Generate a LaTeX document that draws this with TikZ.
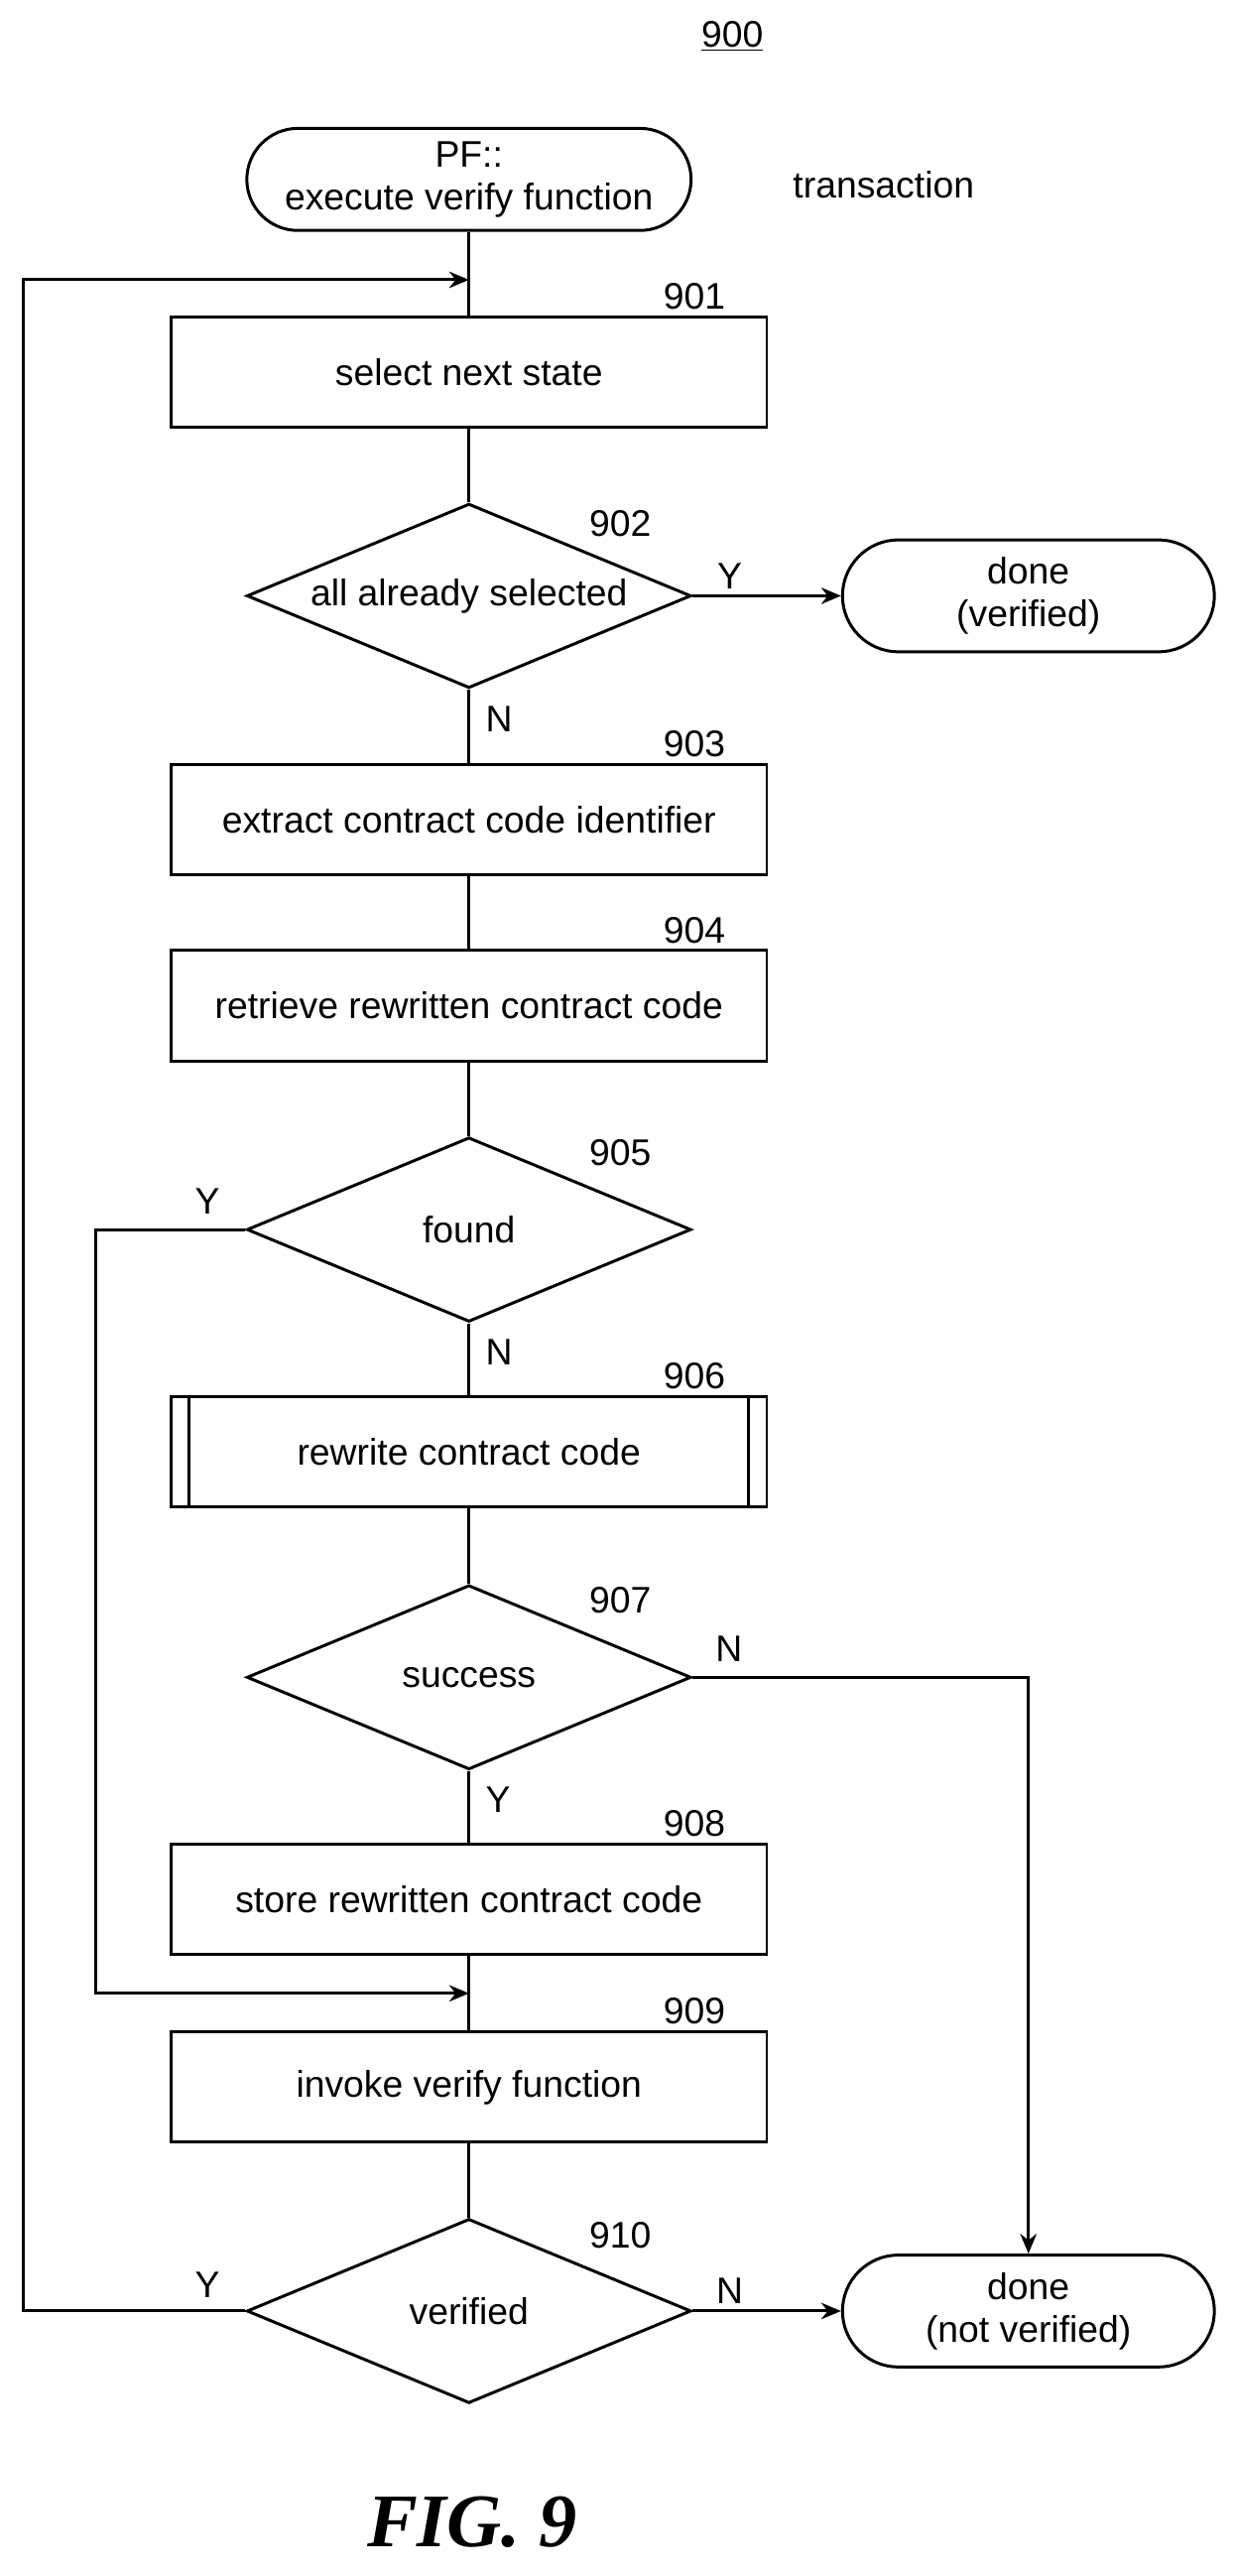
\documentclass[tikz,border=0pt]{standalone}
\usepackage{fontspec}
\setmainfont{Liberation Sans}
\newfontfamily\figfont{Liberation Serif}
\usetikzlibrary{shapes.geometric,arrows.meta}
\tikzstyle{term} = [rectangle, rounded corners=31pt, minimum width=270pt, minimum height=62pt, align=center, draw=black, line width=1.8pt]
\tikzstyle{process} = [rectangle, minimum width=362pt, minimum height=67pt, draw=black, line width=1.8pt]
\tikzstyle{decision} = [diamond, minimum width=270pt, minimum height=112pt, inner sep=0pt, draw=black, line width=1.8pt]
\tikzstyle{arrow} = [line width=1.8pt,-{Stealth[length=12pt,width=10pt]}]
\tikzstyle{line} = [line width=1.8pt]
\begin{document}
\begin{tikzpicture}[x=1pt, y=-1pt, font=\fontsize{22.5}{26}\selectfont]
	\useasboundingbox (0,0) rectangle (750,1565);
	\node at (445,22) {\underline{900}};
	\node (start) [term] at (285,109) {PF::\\execute verify function};
	\node at (537,112) {transaction};
	\node (s901) [process] at (285,226) {select next state};
	\node (s902) [decision, label=center:{all already selected}] at (285,362) {};
	\node (verified) [term, minimum width=226pt, minimum height=68pt, rounded corners=34pt] at (625,362) {done\\(verified)};
	\node (s903) [process] at (285,498) {extract contract code identifier};
	\node (s904) [process] at (285,611) {retrieve rewritten contract code};
	\node (s905) [decision, label=center:{found}] at (285,747) {};
	\node (s906) [process] at (285,882) {rewrite contract code};
	\draw [line] ([xshift=12pt]s906.north west) -- ([xshift=12pt]s906.south west);
	\draw [line] ([xshift=-12pt]s906.north east) -- ([xshift=-12pt]s906.south east);
	\node (s907) [decision, label=center:{success}] at (285,1019) {};
	\node (s908) [process] at (285,1154) {store rewritten contract code};
	\node (s909) [process] at (285,1268) {invoke verify function};
	\node (s910) [decision, label=center:{verified}] at (285,1404) {};
	\node (failed) [term, minimum width=226pt, minimum height=68pt, rounded corners=34pt] at (625,1404) {done\\(not verified)};
	\coordinate (loop) at (285,170);
	\coordinate (join) at (285,1211);

	% step numbers
	\foreach \n/\y in {901/180, 903/452, 904/565, 906/836, 908/1108, 909/1222}
		\node at (422,\y) {\n};
	\foreach \n/\y in {902/318, 905/700, 907/972, 910/1358}
		\node at (377,\y) {\n};

	\draw [line] (start) -- (s901);
	\draw [line] (s901) -- (s902);
	\draw [arrow] (s902) -- node[above, pos=0.25] {Y} (verified);
	\draw [line] (s902) -- node[right, pos=0.4, xshift=6pt] {N} (s903);
	\draw [line] (s903) -- (s904);
	\draw [line] (s904) -- (s905);
	\draw [line] (s905) -- node[right, pos=0.4, xshift=6pt] {N} (s906);
	\draw [line] (s906) -- (s907);
	\draw [line] (s907) -- node[right, pos=0.4, xshift=6pt] {Y} (s908);
	\draw [line] (s908) -- (s909);
	\draw [line] (s909) -- (s910);
	\draw [arrow] (s910) -- node[above, pos=0.25] {N} (failed);
	\draw [arrow] (s905.west) -- (58,747) -- (58,1211) -- (join);
	\node at (126,730) {Y};
	\draw [arrow] (s907.east) -- (625,1019) -- (failed.north);
	\node at (443,1002) {N};
	\draw [arrow] (s910.west) -- (14,1404) -- (14,170) -- (loop);
	\node at (126,1388) {Y};

	\node at (287,1532) {\figfont\fontsize{46}{50}\selectfont\bfseries\itshape FIG. 9};
\end{tikzpicture}
\end{document}
